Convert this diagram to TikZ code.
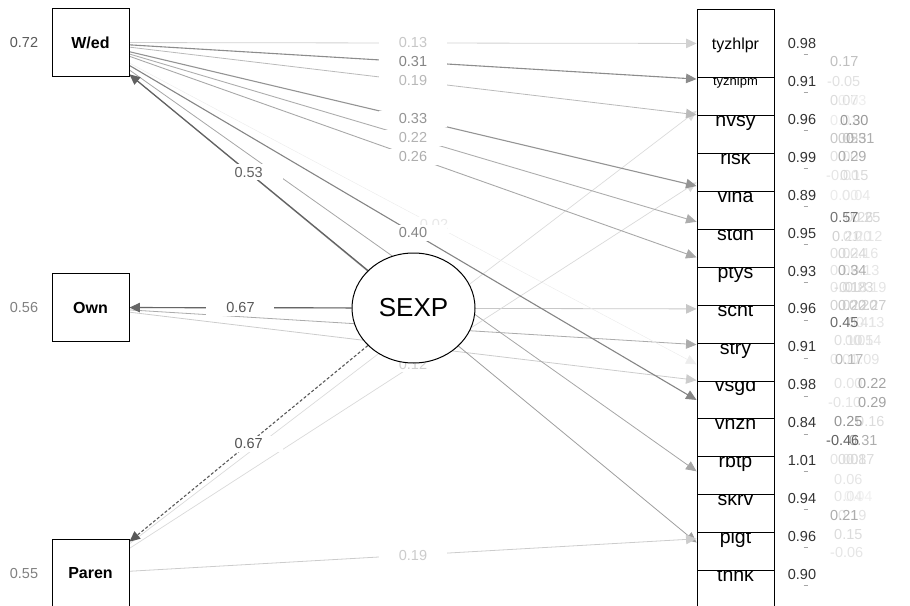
\documentclass[tikz,border=0pt]{standalone}
\usepackage{fontspec}
\setmainfont{Liberation Sans}
\usetikzlibrary{shapes.geometric,arrows.meta}
\pgfdeclarelayer{bg}
\pgfsetlayers{bg,main}
\newcommand{\fsz}[1]{\fontsize{#1}{#1}\selectfont}
\tikzset{
  obsbox/.style={draw=black, line width=0.9pt, fill=white, minimum width=77pt, minimum height=68pt, inner sep=0pt},
  leftbox/.style={obsbox, font=\bfseries\fsz{16}},
  rbox/.style={obsbox, font=\fsz{19.5}, text height=16pt, text depth=2pt},
  latnode/.style={ellipse, draw=black, line width=1pt, fill=white, minimum width=123pt, minimum height=110pt, inner sep=0pt, font=\fsz{26}},
  conn/.style={line width=#1, -{Triangle[length=10.5pt,width=9.5pt]}},
  elab/.style={fill=white, inner sep=0pt, minimum width=68pt, minimum height=16pt, font=\fsz{14.5}, text=black!#1},
  resv/.style={font=\fsz{14.5}, text=black!#1, inner sep=0pt},
  covl/.style={font=\fsz{14.5}, text=black!#1, inner sep=0pt, anchor=west},
  tick/.style={draw=black!35, line width=0.6pt},
}
\begin{document}
\begin{tikzpicture}[x=1pt,y=-1pt]
\useasboundingbox (0,0) rectangle (910,605);
\clip (0,0) rectangle (910,605);

% left observed variables
\node[leftbox] (wed) at (90.5,42.5) {W/ed};
\node[leftbox] (own) at (90.5,307.5) {Own};
\node[leftbox] (paren) at (90.5,573.5) {Paren};

% latent
\node[latnode] (sexp) at (413.5,308) {SEXP};

% right indicators, bottom first so upper boxes overlap lower ones
\node[rbox] (thnk) at (735.5,574.5) {thnk};
\node[rbox] (plgt) at (735.5,536.6) {plgt};
\node[rbox] (skrv) at (735.5,498.7) {skrv};
\node[rbox] (rbtp) at (735.5,460.7) {rbtp};
\node[rbox] (vnzh) at (735.5,422.8) {vnzh};
\node[rbox] (vsgd) at (735.5,384.9) {vsgd};
\node[rbox] (stry) at (735.5,347.0) {stry};
\node[rbox] (scht) at (735.5,309.0) {scht};
\node[rbox] (ptys) at (735.5,271.1) {ptys};
\node[rbox] (stdn) at (735.5,233.2) {stdn};
\node[rbox] (vina) at (735.5,195.2) {vina};
\node[rbox] (risk) at (735.5,157.3) {risk};
\node[rbox] (nvsy) at (735.5,119.4) {nvsy};
\node[rbox, font=\fsz{13}, text height=10pt, text depth=2pt] (tyzhlpm) at (735.5,81.4) {tyzhlpm};
\node[rbox, font=\fsz{16}, text height=14pt, text depth=2pt] (tyzhlpr) at (735.5,43.5) {tyzhlpr};

% residual variances
\node[resv=65] (rwed) at (24,42.5) {0.72};
\node[resv=50] (rown) at (24,307.5) {0.56};
\node[resv=50] (rparen) at (24,573.5) {0.55};
\foreach \yy/\vv [count=\i] in {43.5/0.98,81.4/0.91,119.4/0.96,157.3/0.99,195.2/0.89,233.2/0.95,271.1/0.93,309.0/0.96,347.0/0.91,384.9/0.98,422.8/0.84,460.7/1.01,498.7/0.94,536.6/0.96,574.5/0.90}{
  \node[resv=80] (res\i) at (802,\yy) {\vv};
  \draw[tick] (803.5,\yy+11) -- (807.5,\yy+11);
}

% residual covariance labels (overlapping, faint)
\foreach \xx/\yy/\tt/\gg [count=\i] in {
 830/62/0.17/25, 827/82/-0.05/12, 830/101/0.07/14, 838/101/0.03/7,
 830/121/0.01/8, 840/121/0.30/40,
 830/139/0.05/22, 838/139/0.25/20, 846/139/0.31/32,
 830/157/0.00/12, 838/157/0.29/32,
 826/176/-0.00/10, 840/176/0.15/15,
 830/196/0.00/8, 842/196/0.04/9,
 845/218/0.26/14, 852/218/0.25/16, 830/218/0.57/55,
 832/237/0.21/18, 843/237/0.20/11, 854/237/0.12/10,
 830/254/0.02/13, 838/254/0.24/16, 850/254/0.16/10,
 830/271/0.09/11, 851/271/0.13/10, 838/271/0.34/32,
 830/288/0.01/11, 834/288/-0.18/16, 845/288/0.23/16, 858/288/0.19/10,
 830/306/0.02/18, 838/306/0.22/22, 849/306/0.20/18, 858/306/0.27/20,
 848/323/0.41/12, 856/323/0.13/10, 830/323/0.45/58,
 834/341/0.10/13, 845/341/0.01/11, 853/341/0.54/11,
 830/360/0.01/10, 851/360/0.09/11, 835/360/0.17/28,
 834/384/0.00/11, 858/384/0.22/36,
 828/403/-0.10/11, 858/403/0.29/36,
 856/422/0.16/14, 834/422/0.25/42,
 849/441/0.31/32, 826/441/-0.46/62,
 830/460/0.00/11, 838/460/0.08/14, 846/460/0.17/14,
 834/480/0.06/10,
 834/497/0.04/10, 844/497/0.04/6,
 838/516/0.19/11, 830/516/0.21/32,
 834/535/0.15/14,
 830/553/-0.06/10}{
  \node[covl=\gg] (cv\i) at (\xx,\yy) {\tt};
}

\begin{pgfonlayer}{bg}
% edges whose labels are hidden behind the latent variable
\draw[conn=0.7pt, draw=black!14] (paren) -- (tyzhlpm);
\draw[conn=0.8pt, draw=black!22] (own) -- (scht);
\draw[conn=0.8pt, draw=black!20] (own) -- (vsgd);
\draw[conn=0.8pt, draw=black!33] (own) -- (stry);
\draw[conn=0.8pt, draw=black!35] (wed) -- (skrv);
\draw[conn=0.8pt, draw=black!38] (wed) -- (thnk);
% labelled edges, weakest first
\draw[conn=0.5pt, draw=black!7] (wed) -- node[elab=9, pos=0.537]{0.02} (vsgd);
\draw[conn=0.7pt, draw=black!15] (paren) -- node[elab=18, yshift=1pt]{0.12} (risk);
\draw[conn=0.8pt, draw=black!18] (wed) -- node[elab=22]{0.13} (tyzhlpr);
\draw[conn=0.8pt, draw=black!20] (paren) -- node[elab=20]{0.19} (plgt);
\draw[conn=0.8pt, draw=black!27] (wed) -- node[elab=28]{0.19} (nvsy);
\draw[conn=0.9pt, draw=black!32] (wed) -- node[elab=30]{0.22} (stdn);
\draw[conn=0.9pt, draw=black!34] (wed) -- node[elab=32]{0.26} (ptys);
\draw[conn=1.1pt, draw=black!45] (wed) -- node[elab=48]{0.31} (tyzhlpm);
\draw[conn=1.1pt, draw=black!42] (wed) -- node[elab=42]{0.33} (vina);
\draw[conn=1.1pt, draw=black!48] (wed) -- node[elab=48]{0.40} (vnzh);
\draw[conn=1.2pt, draw=black!62] (sexp) -- node[elab=62]{0.53} (wed);
\draw[conn=1.2pt, draw=black!60] (sexp) -- node[elab=66]{0.67} (own);
\draw[conn=1.1pt, draw=black!65, dash pattern=on 3pt off 2pt] (sexp) -- node[elab=68]{0.67} (paren);
\end{pgfonlayer}
\end{tikzpicture}
\end{document}
